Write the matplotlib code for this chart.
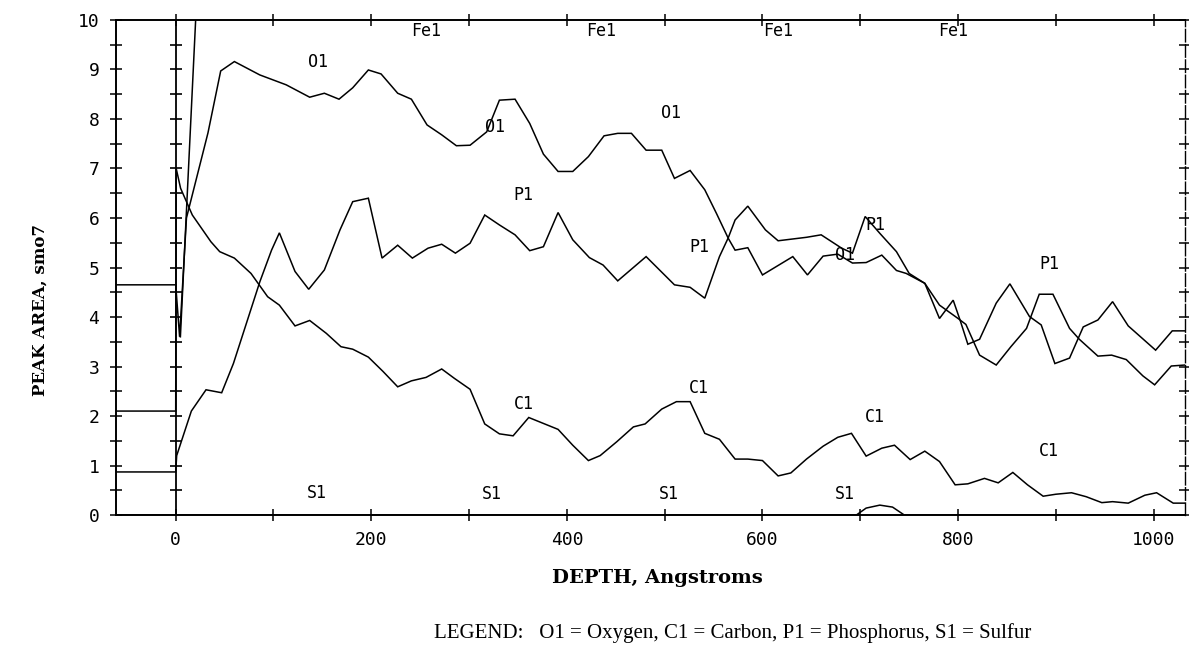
# Perfil de profundidad: area de pico vs profundidad (O1, C1, P1, S1, Fe1)
import numpy as np
import matplotlib
matplotlib.use("Agg")
import matplotlib.pyplot as plt
from matplotlib.ticker import FixedLocator, NullFormatter

# datos (profundidad en Angstroms, area de pico)
o1_depth = [-61, 0, 4, 11, 33, 46, 60, 86, 113, 137, 152, 167, 181, 197, 210, 227, 241,
            257, 272, 287, 301, 318, 331, 347, 362, 376, 391, 406, 422, 438, 452, 466,
            481, 497, 510, 526, 541, 553, 565, 572, 585, 600, 631, 646, 662, 677, 692,
            706, 722, 737, 747, 766, 781, 800, 808, 822, 839, 854, 870, 883, 897, 914,
            924, 943, 957, 972, 989, 1001, 1018, 1032]
o1_area = [4.65, 4.65, 3.6, 6.0, 7.72, 8.97, 9.16, 8.89, 8.69, 8.44, 8.52, 8.40, 8.63,
           8.99, 8.91, 8.52, 8.40, 7.88, 7.68, 7.46, 7.47, 7.74, 8.38, 8.40, 7.91, 7.29,
           6.94, 6.94, 7.24, 7.66, 7.71, 7.71, 7.37, 7.37, 6.80, 6.96, 6.57, 6.09, 5.59,
           5.35, 5.40, 4.85, 5.22, 4.85, 5.23, 5.27, 5.09, 5.10, 5.25, 4.94, 4.88, 4.68,
           4.24, 3.97, 3.85, 3.23, 3.03, 3.40, 3.77, 4.46, 4.46, 3.77, 3.55, 3.21, 3.23,
           3.14, 2.81, 2.63, 3.01, 3.03]

p1_depth = [-61, 0, 1, 16, 31, 47, 59, 86, 98, 106, 122, 136, 152, 168, 181, 197, 211,
            227, 242, 258, 272, 286, 301, 316, 331, 347, 362, 376, 391, 406, 423, 437,
            452, 481, 510, 526, 541, 556, 565, 572, 585, 603, 616, 645, 660, 681, 692,
            705, 720, 737, 750, 766, 781, 795, 802, 810, 822, 839, 853, 873, 885, 899,
            914, 928, 943, 958, 974, 1002, 1019, 1032]
p1_area = [0.87, 0.87, 1.2, 2.1, 2.53, 2.47, 3.06, 4.71, 5.35, 5.70, 4.92, 4.56, 4.95,
           5.76, 6.33, 6.40, 5.19, 5.45, 5.19, 5.39, 5.47, 5.29, 5.49, 6.06, 5.86, 5.66,
           5.34, 5.42, 6.11, 5.56, 5.20, 5.05, 4.73, 5.22, 4.65, 4.60, 4.38, 5.22, 5.60,
           5.96, 6.24, 5.76, 5.54, 5.61, 5.66, 5.39, 5.29, 6.03, 5.69, 5.32, 4.88, 4.68,
           3.97, 4.34, 3.94, 3.45, 3.55, 4.28, 4.67, 4.01, 3.84, 3.06, 3.17, 3.80, 3.94,
           4.31, 3.82, 3.33, 3.72, 3.72]

c1_depth = [-61, 0, 0.5, 5, 17, 36, 45, 60, 77, 94, 106, 122, 137, 154, 169, 181, 197,
            212, 227, 241, 256, 272, 285, 301, 316, 331, 345, 361, 376, 391, 406, 422,
            434, 451, 468, 480, 497, 512, 526, 541, 556, 572, 585, 600, 616, 629, 645,
            662, 677, 691, 706, 722, 735, 751, 766, 781, 797, 810, 827, 841, 856, 871,
            887, 900, 916, 931, 947, 958, 974, 991, 1003, 1020, 1032]
c1_area = [2.1, 2.1, 7.0, 6.6, 6.06, 5.52, 5.32, 5.19, 4.88, 4.41, 4.24, 3.82, 3.93,
           3.67, 3.40, 3.35, 3.19, 2.90, 2.59, 2.71, 2.78, 2.95, 2.76, 2.54, 1.84, 1.64,
           1.60, 1.97, 1.85, 1.73, 1.41, 1.10, 1.20, 1.48, 1.78, 1.84, 2.14, 2.29, 2.29,
           1.65, 1.53, 1.13, 1.13, 1.10, 0.79, 0.85, 1.13, 1.39, 1.57, 1.65, 1.19, 1.35,
           1.41, 1.12, 1.29, 1.08, 0.61, 0.63, 0.74, 0.65, 0.86, 0.61, 0.38, 0.42, 0.45,
           0.37, 0.25, 0.27, 0.24, 0.40, 0.45, 0.24, 0.24]

s1_depth = [-61, 696, 706, 720, 733, 745, 1032]
s1_area = [0.0, 0.0, 0.14, 0.20, 0.16, 0.0, 0.0]

fe1_depth = [4.8, 20.4, 21.6]
fe1_area = [3.6, 10.0, 10.5]

# etiquetas de cada curva: (texto, profundidad, area)
etiquetas = [("Fe1", 256, 9.78), ("Fe1", 435, 9.78), ("Fe1", 616, 9.78), ("Fe1", 795, 9.78),
             ("O1", 146, 9.15), ("O1", 326, 7.84), ("O1", 506, 8.12), ("O1", 684, 5.25),
             ("P1", 356, 6.46), ("P1", 535, 5.41), ("P1", 715, 5.86), ("P1", 893, 5.07),
             ("C1", 356, 2.24), ("C1", 535, 2.57), ("C1", 715, 1.99), ("C1", 893, 1.29),
             ("S1", 144, 0.44), ("S1", 323, 0.42), ("S1", 504, 0.42), ("S1", 684, 0.42)]

fig = plt.figure(figsize=(11.89, 6.53), dpi=100)
ax = fig.add_axes([0.0976, 0.2113, 0.8990, 0.7581])

lw = 1.1
for x, y in [(o1_depth, o1_area), (p1_depth, p1_area), (c1_depth, c1_area),
             (s1_depth, s1_area), (fe1_depth, fe1_area)]:
    ax.plot(x, y, color="black", lw=lw, solid_joinstyle="miter")

# eje interno en profundidad 0 con sus cruces
ax.axvline(0, color="black", lw=1.3)
marcas = np.arange(0.5, 10, 0.5)
ax.plot(np.zeros_like(marcas), marcas, ls="none", marker="_", ms=9, mew=1.2, color="black")

ax.set_xlim(-61, 1032)
ax.set_ylim(0, 10)

# ejes y marcas tipo plotter
ax.xaxis.set_major_locator(FixedLocator(range(0, 1001, 200)))
ax.xaxis.set_minor_locator(FixedLocator(range(100, 1001, 200)))
ax.yaxis.set_major_locator(FixedLocator(range(0, 11)))
ax.yaxis.set_minor_locator(FixedLocator(np.arange(0.5, 10, 1.0)))
ax.xaxis.set_minor_formatter(NullFormatter())
ax.yaxis.set_minor_formatter(NullFormatter())
ax.tick_params(which="both", direction="inout", length=8, width=1.1,
               top=True, right=True, labelsize=13)
ax.tick_params(axis="x", which="both", length=9, pad=7)
ax.tick_params(axis="y", pad=8)
for lab in ax.get_xticklabels() + ax.get_yticklabels():
    lab.set_family("DejaVu Sans Mono")

for s in ax.spines.values():
    s.set_linewidth(1.4)
ax.spines["right"].set_linestyle((0, (9, 2)))
ax.spines["right"].set_linewidth(1.0)

for texto, x, y in etiquetas:
    ax.text(x, y, texto, ha="center", va="center", fontsize=12,
            family="DejaVu Sans Mono")

fig.text(0.034, 0.525, "PEAK AREA, smo7", rotation=90, ha="center", va="center",
         fontsize=12, fontweight="bold", family="DejaVu Serif")
fig.text(0.5525, 0.115, "DEPTH, Angstroms", ha="center", va="center",
         fontsize=14, fontweight="bold", family="DejaVu Serif")
fig.text(0.6165, 0.031, "LEGEND:   O1 = Oxygen, C1 = Carbon, P1 = Phosphorus, S1 = Sulfur",
         ha="center", va="center", fontsize=15, family="Liberation Serif")

fig.savefig("out.png", dpi=100)
